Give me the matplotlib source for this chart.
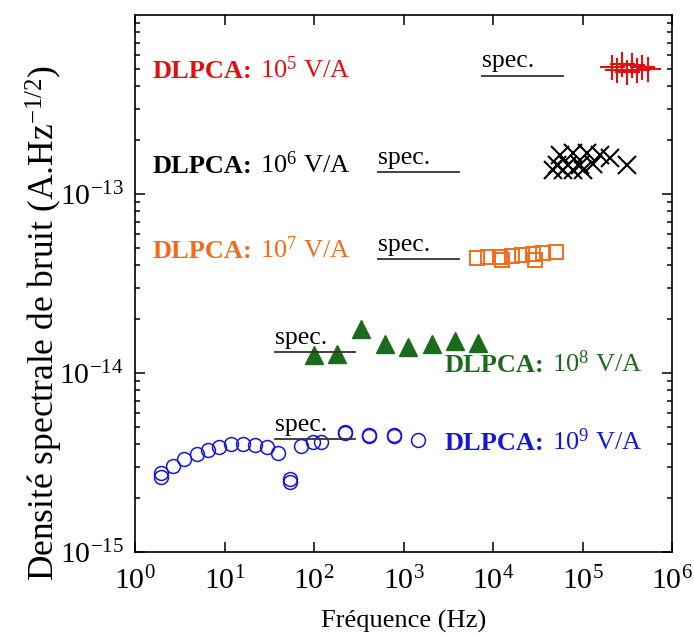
import numpy as np
import matplotlib
matplotlib.use("Agg")
import matplotlib.pyplot as plt

plt.rcParams['font.family'] = ['Liberation Serif', 'DejaVu Serif']
plt.rcParams['mathtext.fontset'] = 'custom'
plt.rcParams['mathtext.rm'] = 'Liberation Serif'
plt.rcParams['mathtext.it'] = 'Liberation Serif:italic'
plt.rcParams['mathtext.bf'] = 'Liberation Serif:bold'

# DLPCA 10^5 V/A (red plus)
f5 = [2.14e5, 2.43e5, 2.76e5, 3.14e5, 3.57e5, 4.06e5, 4.62e5, 5.40e5]
n5 = [5.12e-13, 4.93e-13, 5.32e-13, 4.81e-13, 5.25e-13, 4.95e-13, 5.10e-13, 4.98e-13]

# DLPCA 10^6 V/A (black cross)
f6 = [5.61e4, 7.89e4, 1.11e5, 1.57e5, 2.03e5, 3.12e5,
      4.72e4, 6.10e4, 7.89e4, 1.02e5, 5.15e4, 6.94e4, 9.38e4, 1.32e5]
n6 = [1.65e-13, 1.69e-13, 1.69e-13, 1.65e-13, 1.58e-13, 1.45e-13,
      1.36e-13, 1.36e-13, 1.36e-13, 1.36e-13, 1.45e-13, 1.45e-13, 1.45e-13, 1.48e-13]

# DLPCA 10^7 V/A (orange squares)
f7 = [6.68e3, 8.86e3, 1.20e4, 1.25e4, 1.62e4, 2.09e4, 2.82e4, 2.94e4, 3.65e4, 5.06e4]
n7 = [4.38e-14, 4.46e-14, 4.43e-14, 4.28e-14, 4.52e-14, 4.56e-14, 4.60e-14, 4.28e-14, 4.67e-14, 4.76e-14]

# DLPCA 10^8 V/A (green triangles)
f8 = [100, 181, 335, 621, 1122, 2080, 3760, 6800]
n8 = [1.26e-14, 1.28e-14, 1.76e-14, 1.45e-14, 1.40e-14, 1.45e-14, 1.51e-14, 1.47e-14]

# DLPCA 10^9 V/A (blue circles)
f9 = [1.95, 1.95, 2.64, 3.56, 4.89, 6.59, 8.75, 11.8, 16.2, 21.7, 29.6, 39.9,
      53.9, 53.9, 71.6, 96.7, 119, 222, 222, 415, 415, 783, 783, 1463]
n9 = [2.75e-15, 2.62e-15, 3.03e-15, 3.31e-15, 3.53e-15, 3.71e-15, 3.88e-15, 4.0e-15,
      4.0e-15, 3.96e-15, 3.88e-15, 3.56e-15, 2.55e-15, 2.45e-15, 3.92e-15, 4.13e-15,
      4.10e-15, 4.67e-15, 4.60e-15, 4.5e-15, 4.45e-15, 4.5e-15, 4.45e-15, 4.22e-15]

# spec lines: (f start, f end, level)
spec_f0 = [7.5e3, 519, 519, 36.7, 36.7]
spec_f1 = [6.0e4, 4170, 4170, 287, 287]
spec_lvl = [4.58e-13, 1.32e-13, 4.31e-14, 1.31e-14, 4.27e-15]

# labels: (f, value at baseline)
lab_text = ['5', '6', '7', '8', '9']
lab_f = [1.58, 1.58, 1.58, 2910, 2910]
lab_v = [4.43e-13, 1.31e-13, 4.38e-14, 1.01e-14, 3.71e-15]

red = '#e01010'
orange = '#f26c1c'
green = '#1c6a1c'
blue = '#1616d8'
lab_colors = [red, 'black', orange, green, blue]

fig = plt.figure(figsize=(6.94, 6.37), dpi=100)
ax = fig.add_axes([135/694, 85/637, 537/694, 537/637])

ax.plot(f5, n5, ls='none', marker='+', ms=18, mew=1.5, color=red)
ax.plot(f6, n6, ls='none', marker='x', ms=13, mew=1.5, color='black')
ax.plot(f7, n7, ls='none', marker='s', ms=10, mew=1.4, mfc='none', color=orange)
ax.plot(f8, n8, ls='none', marker='^', ms=13, color=green)
ax.plot(f9, n9, ls='none', marker='o', ms=10, mew=1.1, mfc='none', color=blue)

for a, b, lv in zip(spec_f0, spec_f1, spec_lvl):
    ax.plot([a, b], [lv, lv], color='#333333', lw=1.3)
    ax.annotate('spec.', xy=(a, lv), xytext=(0, 6), textcoords='offset points',
                ha='left', va='baseline', fontsize=18.5)

ax.set_xscale('log')
ax.set_yscale('log')
ax.set_xlim(1, 1e6)
ax.set_ylim(1e-15, 1e-12)

renderer = fig.canvas.get_renderer()
for t, x, y, c in zip(lab_text, lab_f, lab_v, lab_colors):
    t1 = ax.text(x, y, 'DLPCA:', color=c, fontsize=19, fontweight='bold',
                 ha='left', va='baseline')
    w = t1.get_window_extent(renderer).width
    ax.annotate(r'$\mathregular{10^{%s}}$ V/A' % t, xy=(x, y), xytext=(w + 7, 0),
                textcoords='offset pixels', color=c, fontsize=19,
                ha='left', va='baseline')

ax.set_xticks([1, 10, 100, 1e3, 1e4, 1e5, 1e6])
ax.set_yticks([1e-15, 1e-14, 1e-13])

ax.tick_params(which='both', direction='in', top=True, right=True, width=1.1)
ax.tick_params(which='major', length=7, labelsize=21.5)
ax.tick_params(axis='x', which='major', pad=11)
ax.tick_params(axis='y', which='major', pad=8)
ax.tick_params(which='minor', length=3.5)
for s in ax.spines.values():
    s.set_linewidth(1.2)

ax.set_xlabel('Fréquence (Hz)', fontsize=19, labelpad=10)
ax.set_ylabel(r'Densité spectrale de bruit (A.Hz$^{\mathregular{-1/2}}$)', fontsize=25.5)
ax.yaxis.set_label_coords(-0.131, 0.426)

fig.savefig('out.png', dpi=100)
